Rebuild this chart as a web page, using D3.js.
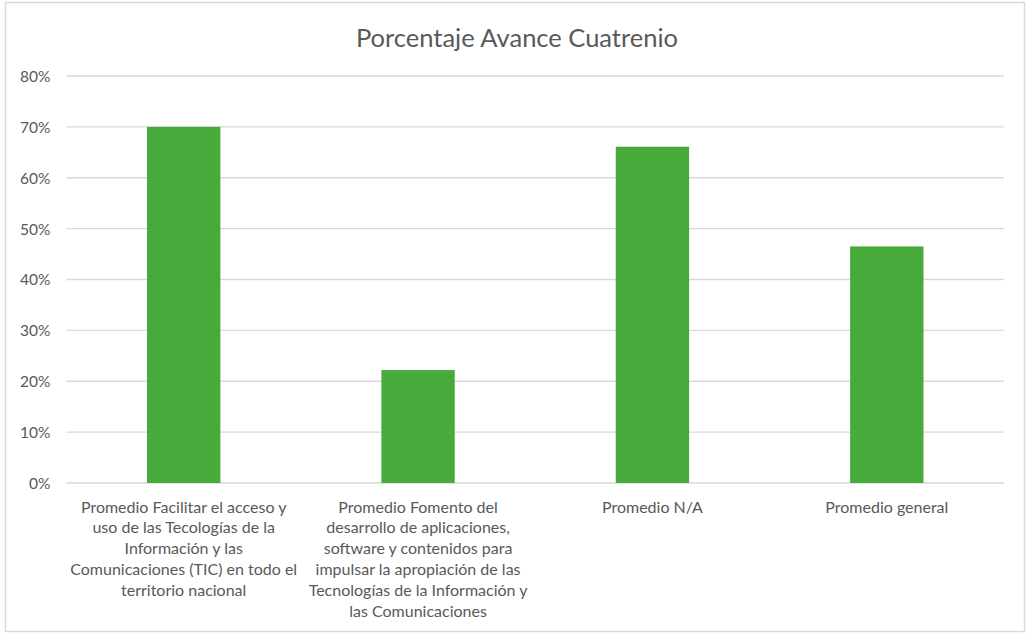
<!DOCTYPE html>
<html lang="es">
<head>
    <meta charset="UTF-8">
    <title>Porcentaje Avance Cuatrenio</title>
    <style>
        body {
            margin: 0;
            padding: 0;
            background: #fff;
            font-family: Lato, "Open Sans", sans-serif;
        }
        .grid line {
            stroke: #d9d9d9;
            stroke-width: 1.3;
        }
        .tick-label {
            fill: #595959;
            font-size: 15.5px;
        }
        .cat-label {
            fill: #595959;
            font-size: 16px;
        }
    </style>
</head>
<body>
    <div id="chart"></div>
    <script src="https://d3js.org/d3.v7.min.js"></script>
    <script>
        const title = 'Porcentaje Avance Cuatrenio';
        const categories = [
            'Promedio Facilitar el acceso y\nuso de las Tecologías de la\nInformación y las\nComunicaciones (TIC) en todo el\nterritorio nacional',
            'Promedio Fomento del\ndesarrollo de aplicaciones,\nsoftware y contenidos para\nimpulsar la apropiación de las\nTecnologías de la Información y\nlas Comunicaciones',
            'Promedio N/A',
            'Promedio general'
        ];
        const values = [0.70, 0.222, 0.661, 0.465];
        const yTicks = [0, 0.1, 0.2, 0.3, 0.4, 0.5, 0.6, 0.7, 0.8];

        const W = 1028, H = 636;
        const margin = { top: 76, right: 24, bottom: 153, left: 66.5 };
        const width = W - margin.left - margin.right;
        const height = H - margin.top - margin.bottom;

        const svg = d3.select('#chart').append('svg')
            .attr('width', W)
            .attr('height', H);

        // outer frame
        svg.append('rect')
            .attr('x', 5.5).attr('y', 2.5)
            .attr('width', 1019).attr('height', 629)
            .attr('fill', '#fff')
            .attr('stroke', '#d9d9d9')
            .attr('stroke-width', 1.5);

        svg.append('text')
            .attr('x', 517)
            .attr('y', 47)
            .attr('text-anchor', 'middle')
            .style('font-size', '25.5px')
            .style('fill', '#595959')
            .text(title);

        const g = svg.append('g')
            .attr('transform', `translate(${margin.left},${margin.top})`);

        const x = d3.scaleBand()
            .domain(d3.range(categories.length))
            .range([0, width])
            .paddingInner(0.687)
            .paddingOuter(0.687 / 2);

        const y = d3.scaleLinear()
            .domain([0, 0.8])
            .range([height, 0]);

        // gridlines
        g.append('g')
            .attr('class', 'grid')
            .selectAll('line')
            .data(yTicks)
            .enter().append('line')
            .attr('x1', 0)
            .attr('x2', width)
            .attr('y1', d => y(d))
            .attr('y2', d => y(d));

        // y labels
        const yAxis = g.append('g')
            .call(d3.axisLeft(y).tickValues(yTicks).tickFormat(d3.format('.0%')).tickSize(0).tickPadding(16));
        yAxis.select('.domain').remove();
        yAxis.selectAll('text')
            .attr('class', 'tick-label')
            .attr('dy', '0.35em')
            .style('font-family', 'Lato, "Open Sans", sans-serif');

        g.selectAll('rect.bar')
            .data(values)
            .enter().append('rect')
            .attr('class', 'bar')
            .attr('x', (d, i) => x(i))
            .attr('width', x.bandwidth())
            .attr('y', d => y(d))
            .attr('height', d => y(0) - y(d))
            .attr('fill', '#46ab3b');

        // category labels
        const labels = g.selectAll('text.cat-label')
            .data(categories)
            .enter().append('text')
            .attr('class', 'cat-label')
            .attr('text-anchor', 'middle')
            .attr('transform', (d, i) => `translate(${x(i) + x.bandwidth() / 2},${height + 29.5})`);

        labels.selectAll('tspan')
            .data(d => d.split('\n'))
            .enter().append('tspan')
            .attr('x', 0)
            .attr('y', (d, i) => i * 20.8)
            .text(d => d);
    </script>
</body>
</html>
